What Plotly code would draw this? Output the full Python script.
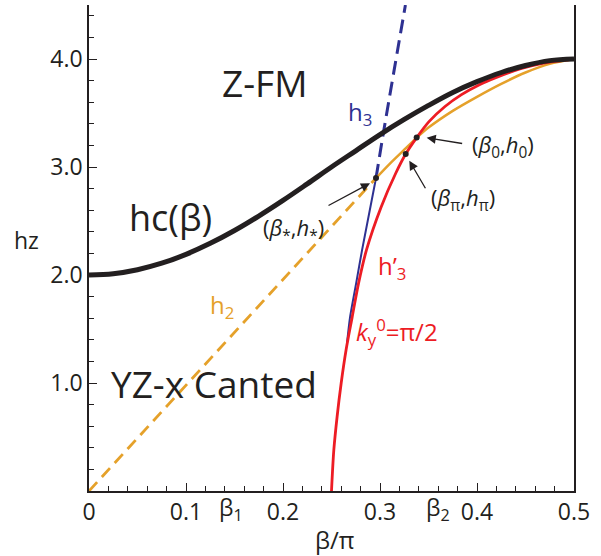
import plotly.graph_objects as go

# ---------------- data ----------------
hc_x = [0.000, 0.025, 0.050, 0.075, 0.100, 0.125, 0.150, 0.175, 0.200, 0.225,
        0.250, 0.275, 0.300, 0.325, 0.350, 0.375, 0.400, 0.425, 0.450, 0.475, 0.500]
hc_y = [2.000, 2.012, 2.049, 2.109, 2.191, 2.293, 2.412, 2.546, 2.691, 2.844,
        3.000, 3.150, 3.300, 3.440, 3.570, 3.690, 3.790, 3.875, 3.940, 3.985, 4.000]

h2_dash_x = [0.0, 0.2959]
h2_dash_y = [0.0, 2.898]
h2_solid_x = [0.2959, 0.310, 0.325, 0.3380, 0.350, 0.375, 0.400, 0.425, 0.450, 0.475, 0.500]
h2_solid_y = [2.898, 3.030, 3.160, 3.272, 3.365, 3.520, 3.650, 3.770, 3.875, 3.955, 4.000]

h3_solid_x = [0.2660, 0.2692, 0.2754, 0.2815, 0.2959]
h3_solid_y = [1.37, 1.614, 1.923, 2.23, 2.898]
h3_dash_x = [0.2959, 0.3040, 0.3262]
h3_dash_y = [2.898, 3.343, 4.500]

h3p_x = [0.250, 0.2524, 0.2558, 0.2600, 0.2651, 0.2713, 0.2778, 0.2860, 0.3012, 0.3161,
         0.3265, 0.3378, 0.3505, 0.367, 0.384, 0.402, 0.420, 0.445, 0.470, 0.500]
h3p_y = [0.00, 0.38, 0.69, 1.00, 1.31, 1.61, 1.92, 2.23, 2.63, 2.94,
         3.12, 3.272, 3.42, 3.56, 3.67, 3.76, 3.83, 3.91, 3.965, 4.00]

pts_x = [0.2959, 0.3265, 0.3378]
pts_y = [2.898, 3.120, 3.272]

x_tickvals = [0, 0.1, 0.2, 0.3, 0.4, 0.5]
x_ticktext = ["0", "0.1", "0.2", "0.3", "0.4", "0.5"]
beta_tick_pos = [0.1464, 0.3600]
beta_tick_text = ["β<sub>1</sub>", "β<sub>2</sub>"]
y_tickvals = [1, 2, 3, 4]
y_ticktext = ["1.0", "2.0", "3.0", "4.0"]

# ---------------- styles ----------------
INK = "#231f20"
ORANGE = "#e5a12a"
BLUE = "#2e3192"
RED = "#ed1c24"
FONT = "Open Sans"

fig = go.Figure()
fig.add_trace(go.Scatter(x=h3_solid_x, y=h3_solid_y, mode="lines",
                         line=dict(color=BLUE, width=2, shape="spline", smoothing=0.6)))
fig.add_trace(go.Scatter(x=h3_dash_x, y=h3_dash_y, mode="lines",
                         line=dict(color=BLUE, width=3, dash="14px,7px", shape="spline", smoothing=0.6)))
fig.add_trace(go.Scatter(x=h2_dash_x, y=h2_dash_y, mode="lines",
                         line=dict(color=ORANGE, width=2.8, dash="12px,7px")))
fig.add_trace(go.Scatter(x=h2_solid_x, y=h2_solid_y, mode="lines",
                         line=dict(color=ORANGE, width=2.5, shape="spline", smoothing=0.8)))
fig.add_trace(go.Scatter(x=h3p_x, y=h3p_y, mode="lines",
                         line=dict(color=RED, width=2.8, shape="spline", smoothing=0.8)))
fig.add_trace(go.Scatter(x=hc_x, y=hc_y, mode="lines",
                         line=dict(color=INK, width=5, shape="spline")))
fig.add_trace(go.Scatter(x=pts_x, y=pts_y, mode="markers",
                         marker=dict(color=INK, size=6)))

ann = []
def txt(x, y, t, size, color=INK, xref="x", yref="y"):
    ann.append(dict(x=x, y=y, xref=xref, yref=yref, text=t, showarrow=False,
                    font=dict(family=FONT, size=size, color=color),
                    xanchor="center", yanchor="middle"))

txt(0.1814, 3.787, "Z-FM", 37)
txt(0.0835, 2.528, "hc(β)", 36)
txt(0.1289, 1.00, "YZ-x Canted", 37)
txt(0.1368, 1.713, "h<sub>2</sub>", 24, ORANGE)
txt(0.2794, 3.50, "h<sub>3</sub>", 24, BLUE)
txt(0.3124, 2.074, "h’<sub>3</sub>", 24, RED)
txt(0.3175, 1.47, "<i>k</i><sub>y</sub><sup>0</sup>=π/2", 24, RED)

txt(0.2110, 2.43, "(<i>β</i><sub>*</sub>,<i>h</i><sub>*</sub>)", 22)
txt(0.4265, 3.195, "(<i>β</i><sub>0</sub>,<i>h</i><sub>0</sub>)", 22)
txt(0.3860, 2.70, "(<i>β</i><sub>π</sub>,<i>h</i><sub>π</sub>)", 22)

for p, t in zip(beta_tick_pos, beta_tick_text):
    ann.append(dict(x=p, y=-0.037, xref="x", yref="paper", text=t, showarrow=False,
                    font=dict(family=FONT, size=23, color=INK),
                    xanchor="center", yanchor="middle"))

txt(0.507, -0.100, "β/π", 24, xref="paper", yref="paper")
txt(-0.128, 0.516, "hz", 23, xref="paper", yref="paper")

# arrows
for hx, hy, ax, ay in [(0.2897, 2.849, -43, 23), (0.3481, 3.271, 37, 6), (0.3302, 3.058, 17, 29)]:
    ann.append(dict(x=hx, y=hy, xref="x", yref="y", text="", showarrow=True,
                    ax=ax, ay=ay, arrowhead=2, arrowsize=1.4, arrowwidth=1.3,
                    arrowcolor=INK))

fig.update_layout(
    width=601, height=556,
    margin=dict(l=89, r=27, t=5, b=65),
    paper_bgcolor="white", plot_bgcolor="white",
    showlegend=False,
    font=dict(family=FONT, color=INK),
    annotations=ann,
)
fig.update_xaxes(range=[0, 0.5], tickvals=x_tickvals, ticktext=x_ticktext,
                 ticks="inside", ticklen=8, tickwidth=1.2, tickcolor=INK,
                 showline=True, linecolor=INK, linewidth=1.5, mirror=False,
                 showgrid=False, zeroline=False,
                 tickfont=dict(family=FONT, size=23, color=INK),
                 minor=dict(ticks="inside", dtick=0.02, tick0=0, ticklen=5,
                            tickwidth=1.2, tickcolor=INK, showgrid=False))
fig.update_yaxes(range=[0, 4.5], tickvals=y_tickvals, ticktext=y_ticktext,
                 ticks="inside", ticklen=8, tickwidth=1.2, tickcolor=INK,
                 showline=True, linecolor=INK, linewidth=1.5, mirror=True,
                 showgrid=False, zeroline=False,
                 tickfont=dict(family=FONT, size=23, color=INK),
                 minor=dict(ticks="inside", dtick=0.2, tick0=0, ticklen=5,
                            tickwidth=1.2, tickcolor=INK, showgrid=False))

fig.write_html("out.html")
